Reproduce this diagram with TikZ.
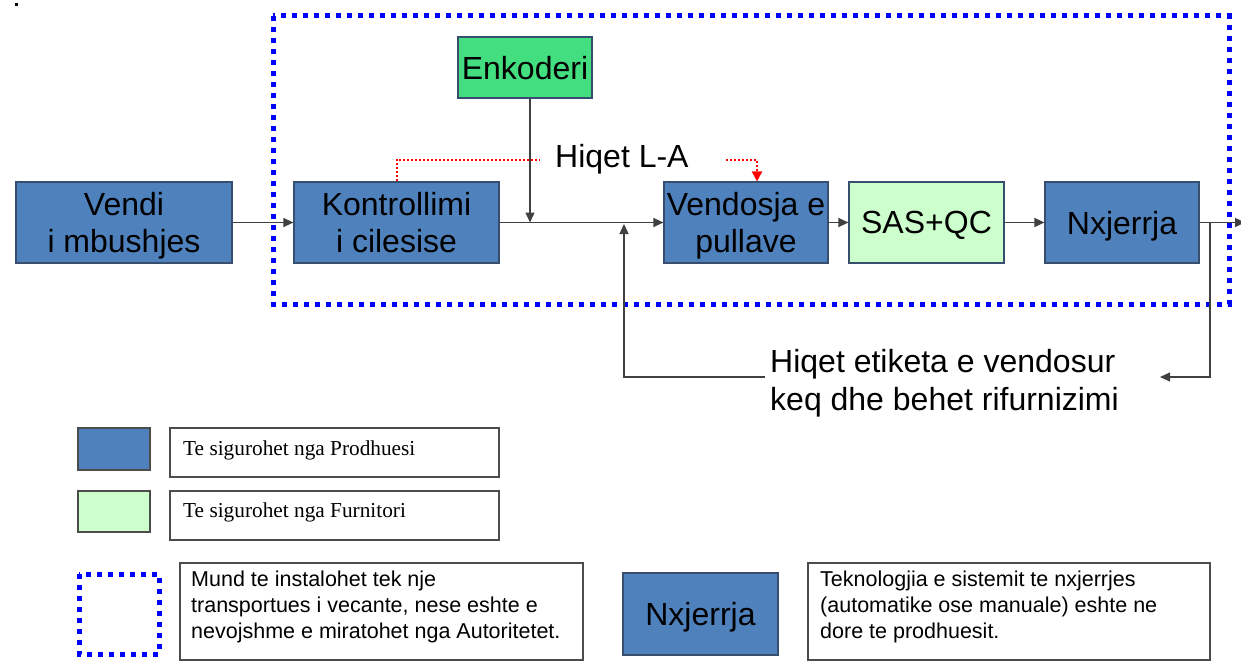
\documentclass[tikz,border=0pt]{standalone}
\usepackage{fontspec}
\setmainfont{Liberation Sans}
\newfontfamily\legserif{Liberation Serif}
\usetikzlibrary{arrows.meta}
\definecolor{pblue}{RGB}{79,129,189}
\definecolor{pbord}{RGB}{56,78,110}
\definecolor{pgreen}{RGB}{66,222,128}
\definecolor{plgreen}{RGB}{204,255,204}
\tikzset{
  procbox/.style={draw=pbord, line width=1.2pt, inner sep=0pt, align=center,
    text depth=0pt, font=\fontsize{32}{36.5}\selectfont},
  mainbox/.style={procbox, fill=pblue, minimum height=81pt},
  conn/.style={draw=black!75, line width=1.3pt, -{Triangle[length=10pt,width=9pt]}},
  reddot/.style={draw=red, line width=2pt, dash pattern=on 2pt off 2pt},
  bluedot/.style={draw=blue, line width=5pt, dash pattern=on 5pt off 6pt},
  legbox/.style={draw=black!70, line width=1.2pt, inner sep=0pt},
  bigtext/.style={font=\fontsize{32}{38}\selectfont, inner sep=0pt},
  legsans/.style={font=\fontsize{21.5}{26}\selectfont, inner sep=0pt, align=left},
  legser/.style={font=\legserif\fontsize{21.3}{24}\selectfont, inner sep=0pt}
}
\begin{document}
\begin{tikzpicture}[x=1pt,y=-1pt]
\useasboundingbox (0,0) rectangle (1241,661);
\fill[white] (0,0) rectangle (1241,661);
% stray dot
\fill[black] (15,3) rectangle (18,6);
% dotted frame
\draw[bluedot] (273,16) rectangle (1229,304);
% process boxes
\node[mainbox, minimum width=216pt] (vendi) at (124,222.5) {Vendi\\i mbushjes};
\node[mainbox, minimum width=205pt] (kon) at (396.5,222.5) {Kontrollimi\\i cilesise};
\node[procbox, fill=pgreen, minimum width=134pt, minimum height=61pt] (enk) at (525,67.5) {Enkoderi};
\node[mainbox, minimum width=164pt] (vend) at (746,222.5) {Vendosja e\\pullave};
\node[procbox, fill=plgreen, minimum width=155pt, minimum height=81pt] (sas) at (926.5,222.5) {SAS+QC};
\node[mainbox, minimum width=154pt] (nx) at (1122,222.5) {Nxjerrja};
% junction coordinates
\coordinate (j1) at (530,222.5);
\coordinate (j2) at (624,224);
\coordinate (fb) at (765,377);
\coordinate (out) at (1245,222.5);
\coordinate (rj) at (1210,222.5);
\coordinate (rt) at (1160,377);
% main flow
\draw[conn] (vendi.east) -- (kon.west);
\draw[conn] (kon.east) -- (vend.west);
\draw[conn] (enk.south -| j1) -- (j1);
\draw[conn] (vend.east) -- (sas.west);
\draw[conn] (sas.east) -- (nx.west);
\draw[conn] (nx.east) -- (out);
\draw[conn] (fb) -- (fb -| j2) -- (j2);
\draw[conn] (rj) -- (rj |- rt) -- (rt);
% labels
\node[bigtext, anchor=base west] (hla) at (555,167) {Hiqet L-A};
\node[bigtext, anchor=north west, align=left] (hie) at (770,349) {Hiqet etiketa e vendosur\\keq dhe behet rifurnizimi};
% red dotted
\coordinate (r1) at (396.5,160);
\coordinate (r1e) at (540,160);
\coordinate (r2s) at (726,160);
\coordinate (r2) at (757,160);
\draw[reddot] (kon.north) -- (r1) -- (r1e);
\draw[reddot, -{Triangle[length=10pt,width=10pt]}] (r2s) -- (r2) -- (r2 |- vend.north);
% legend
\node[legbox, fill=pblue, minimum width=72pt, minimum height=42pt] (lg1) at (114,449) {};
\node[legbox, minimum width=329pt, minimum height=49pt] (lt1) at (334.5,452.5) {};
\node[legser, anchor=base west] at (183,455) {Te sigurohet nga Prodhuesi};
\node[legbox, fill=plgreen, minimum width=72pt, minimum height=41pt] (lg2) at (114,511.5) {};
\node[legbox, minimum width=329pt, minimum height=49pt] (lt2) at (334.5,515.5) {};
\node[legser, anchor=base west] at (183,517) {Te sigurohet nga Furnitori};
\draw[bluedot] (79,574) rectangle (159,654);
\node[legbox, minimum width=403pt, minimum height=97pt] (lt3) at (381.5,611.5) {};
\node[legsans, anchor=north west] at (191,571) {Mund te instalohet tek nje\\transportues i vecante, nese eshte e\\nevojshme e miratohet nga Autoritetet.};
\node[mainbox, minimum width=155pt, minimum height=82pt] (lnx) at (700.5,614) {Nxjerrja};
\node[legbox, minimum width=402pt, minimum height=97pt] (lt4) at (1009,611.5) {};
\node[legsans, anchor=north west] at (820,571) {Teknologjia e sistemit te nxjerrjes\\(automatike ose manuale) eshte ne\\dore te prodhuesit.};
\end{tikzpicture}
\end{document}
